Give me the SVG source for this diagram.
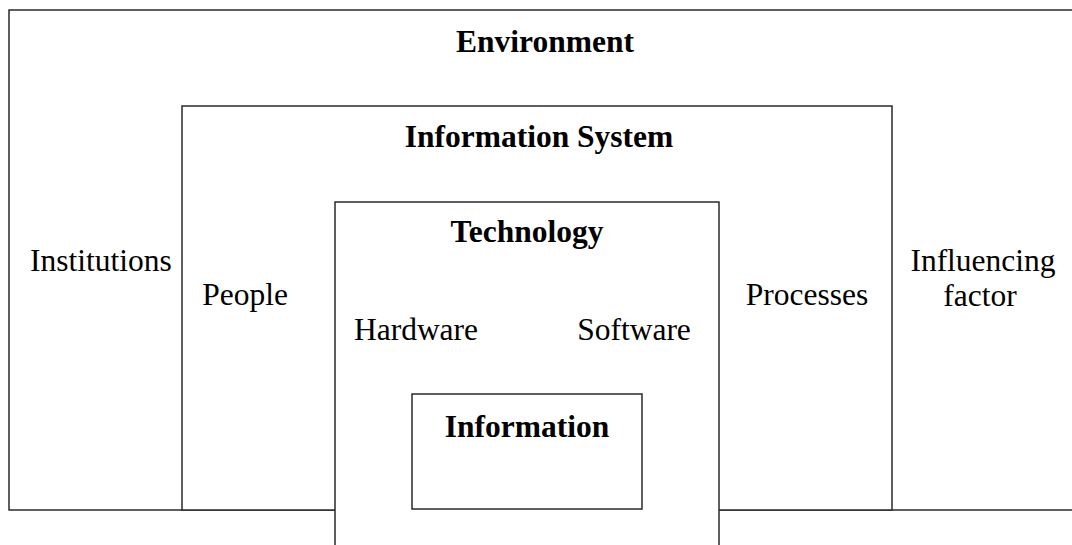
<svg xmlns="http://www.w3.org/2000/svg" width="1072" height="545" viewBox="0 0 1072 545">
  <style>
    .box { fill: #ffffff; stroke: #2a2a2a; stroke-width: 1.5; }
    .title { font-family: "Liberation Serif", "Times New Roman", serif; font-size: 31.5px; font-weight: bold; fill: #000; text-anchor: middle; }
    .label { font-family: "Liberation Serif", "Times New Roman", serif; font-size: 31.5px; fill: #000; text-anchor: middle; }
  </style>
  <rect width="1072" height="545" fill="#ffffff"/>

  <!-- outermost layer: environment (open on the right) -->
  <g id="environment">
    <rect class="box" x="9" y="10" width="1100" height="500"/>
    <text class="title" x="545" y="52">Environment</text>
    <text class="label" x="101" y="271">Institutions</text>
    <text class="label" x="983" y="271">Influencing</text>
    <text class="label" x="980" y="306">factor</text>
  </g>

  <!-- information system layer -->
  <g id="information-system">
    <rect class="box" x="182" y="106" width="710" height="404"/>
    <text class="title" x="539" y="147">Information System</text>
    <text class="label" x="245" y="305">People</text>
    <text class="label" x="807" y="305">Processes</text>
  </g>

  <!-- technology layer (runs past the bottom edge) -->
  <g id="technology">
    <rect class="box" x="335" y="202" width="384" height="400"/>
    <text class="title" x="527" y="242">Technology</text>
    <text class="label" x="416" y="340">Hardware</text>
    <text class="label" x="634" y="340">Software</text>
  </g>

  <!-- core: information -->
  <g id="information">
    <rect class="box" x="412" y="394" width="230" height="115"/>
    <text class="title" x="527" y="437">Information</text>
  </g>

  <g id="connectors"/>
</svg>
